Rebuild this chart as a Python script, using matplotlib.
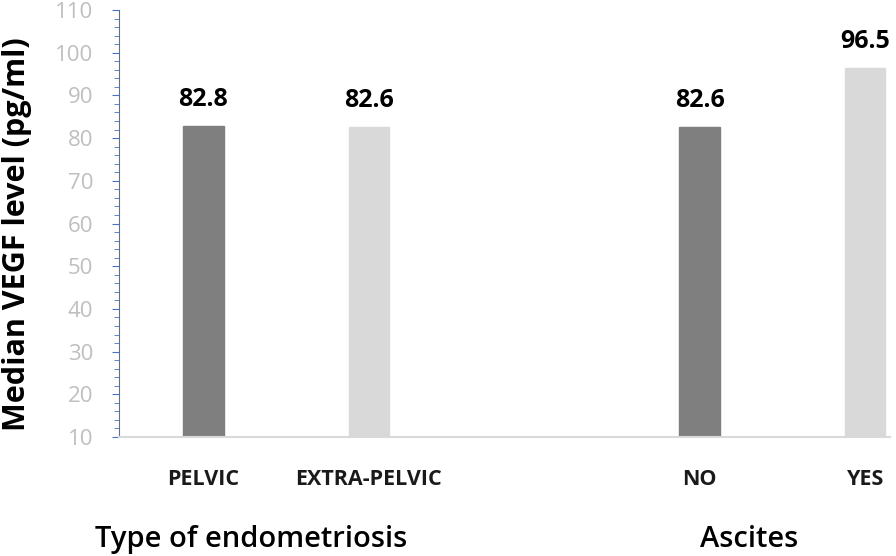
import numpy as np
import matplotlib.pyplot as plt
from matplotlib.ticker import MultipleLocator

# data
categories = ['PELVIC', 'EXTRA-PELVIC', 'NO', 'YES']
positions = [0, 1, 3, 4]
values = [82.8, 82.6, 82.6, 96.5]
colors = ['#7f7f7f', '#d9d9d9', '#7f7f7f', '#d9d9d9']
groups = ['Type of endometriosis', 'Ascites']
group_x = [0.29, 3.3]

plt.rcParams['font.family'] = ['Open Sans', 'DejaVu Sans']

fig = plt.figure(figsize=(8.96, 5.56), dpi=100)
fig.patch.set_facecolor('white')
ax = fig.add_axes([0.1328, 0.214, 0.8605, 0.768])

ax.bar(positions, values, width=0.245, color=colors, edgecolor=colors, zorder=2)

# value labels above bars
for x, v in zip(positions, values):
    ax.text(x, v + 4.7, f'{v}', ha='center', va='baseline', fontsize=18, fontweight='bold', color='black')

ax.set_ylim(10, 110)
ax.set_xlim(-0.51, 4.15)
ax.yaxis.set_major_locator(MultipleLocator(10))
ax.yaxis.set_minor_locator(MultipleLocator(2))

ax.set_xticks(positions)
ax.set_xticklabels(categories, fontsize=15.5, fontweight='bold', color='#1a1a1a')
ax.tick_params(axis='x', length=0, pad=23)
ax.tick_params(axis='y', which='major', length=5, color='#4472c4', labelcolor='#bfbfbf', labelsize=16, pad=13.5)
ax.tick_params(axis='y', which='minor', length=3.3, color='#4472c4')

for s in ['top', 'right']:
    ax.spines[s].set_visible(False)
ax.spines['left'].set_color('#4472c4')
ax.spines['bottom'].set_color('#d9d9d9')
ax.spines['bottom'].set_linewidth(1.5)

ax.set_ylabel('Median VEGF level (pg/ml)', fontsize=22, fontweight='bold')
ax.yaxis.set_label_coords(-0.1128, 0.4754)

# group labels under tick labels
for gx, g in zip(group_x, groups):
    ax.text(gx, -0.2576, g, transform=ax.get_xaxis_transform(), ha='center', va='baseline',
            fontsize=21, fontweight='semibold', color='black')

fig.savefig('out.png', dpi=100, facecolor=fig.get_facecolor())
